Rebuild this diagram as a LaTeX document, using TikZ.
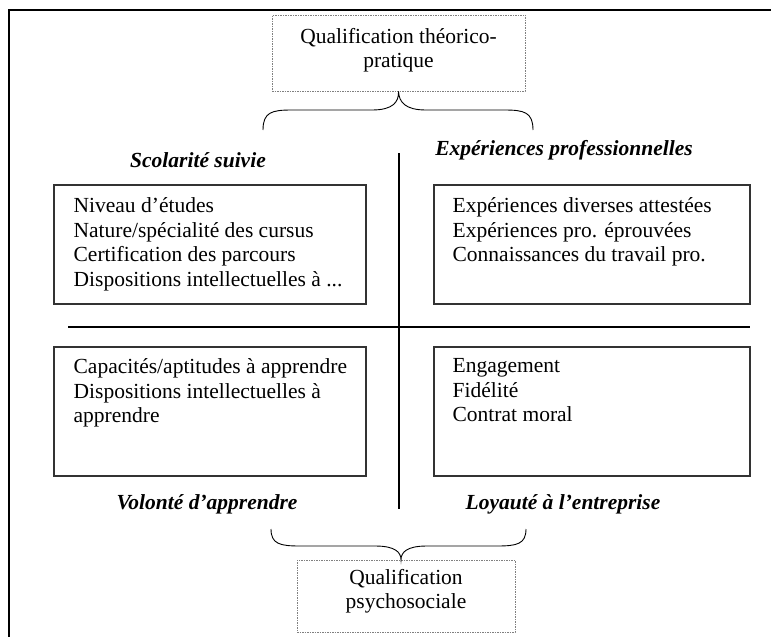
\documentclass[tikz,border=0pt]{standalone}
\usepackage{fontspec}
\setmainfont{Liberation Serif}
\usetikzlibrary{positioning}
\newcommand{\corps}{\fontsize{21.5}{24.5}\selectfont}

\begin{document}
\begin{tikzpicture}[x=1pt, y=-1pt,
	every node/.style={font=\corps},
	cadre/.style={draw=black!80, line width=1.1pt, inner sep=0pt, minimum height=119pt},
	pole/.style={draw=black!50, dash pattern=on 1.5pt off 1pt, line width=0.6pt, inner sep=0pt},
	liste/.style={align=left, anchor=north west, inner sep=0pt},
	titre/.style={font=\corps\bfseries\itshape},
	axe/.style={line width=2.6pt},
	accolade/.style={line width=0.9pt}]
	\useasboundingbox (0,0) rectangle (771,637);
	\draw[line width=2pt] (771,10) -- (9,10) -- (9,637);

	\node[pole, minimum width=253pt, minimum height=76pt] (theo) at (398.5,53) {};
	\node[align=center, inner sep=0pt, below=13pt of theo.north] (theotxt) {Qualification théorico-\\pratique};
	\node[pole, minimum width=218pt, minimum height=72pt] (psy) at (406,596) {};
	\node[align=center, inner sep=0pt, below=9pt of psy.north] (psytxt) {Qualification\\psychosociale};

	\node[titre] (lscol) at (198,160) {Scolarité suivie};
	\node[titre] (lexpe) at (564,150) {Expériences professionnelles};
	\node[titre] (lvol) at (207,504) {Volonté d’apprendre};
	\node[titre] (lloy) at (563,504) {Loyauté à l’entreprise};

	\node[cadre, minimum width=312pt] (scol) at (210,244.5) {};
	\node[cadre, minimum width=316pt] (expe) at (592,244.5) {};
	\node[cadre, minimum width=312pt, minimum height=129pt] (vol) at (210,411.5) {};
	\node[cadre, minimum width=316pt, minimum height=129pt] (loy) at (592,411.5) {};

	\node[liste, below right=13pt and 20pt of scol.north west] (scoltxt) {Niveau d’études\\Nature/spécialité des cursus\\Certification des parcours\\Dispositions intellectuelles à ...};
	\node[liste, below right=13pt and 19pt of expe.north west] (expetxt) {Expériences diverses attestées\\Expériences pro. éprouvées\\Connaissances du travail pro.};
	\node[liste, below right=12pt and 20pt of vol.north west] (voltxt) {Capacités/aptitudes à apprendre\\Dispositions intellectuelles à\\apprendre};
	\node[liste, below right=12pt and 19pt of loy.north west] (loytxt) {Engagement\\Fidélité\\Contrat moral};

	\coordinate (haut) at (399,153);
	\coordinate (bas) at (399,509);
	\coordinate (gauche) at (68,327);
	\coordinate (droite) at (750,327);
	\draw[axe] (haut) -- (bas);
	\draw[axe] (gauche) -- (droite);

	\coordinate (a1) at (263,130);
	\coordinate (a2) at (533,130);
	\coordinate (b1) at (271,529);
	\coordinate (b2) at (526,529);
	\coordinate (psytip) at (401,560);
	\draw[accolade] (a1) .. controls (263,112) and (272,110) .. (292,110) -- (372,110)
		.. controls (393,110) and (399,102) .. (theo.south)
		.. controls (399,102) and (405,110) .. (426,110) -- (504,110)
		.. controls (524,110) and (533,112) .. (a2);
	\draw[accolade] (b1) .. controls (271,544) and (280,546) .. (300,546) -- (375,546)
		.. controls (395,546) and (401,552) .. (psytip)
		.. controls (401,552) and (407,546) .. (427,546) -- (497,546)
		.. controls (517,546) and (526,544) .. (b2);
\end{tikzpicture}
\end{document}
